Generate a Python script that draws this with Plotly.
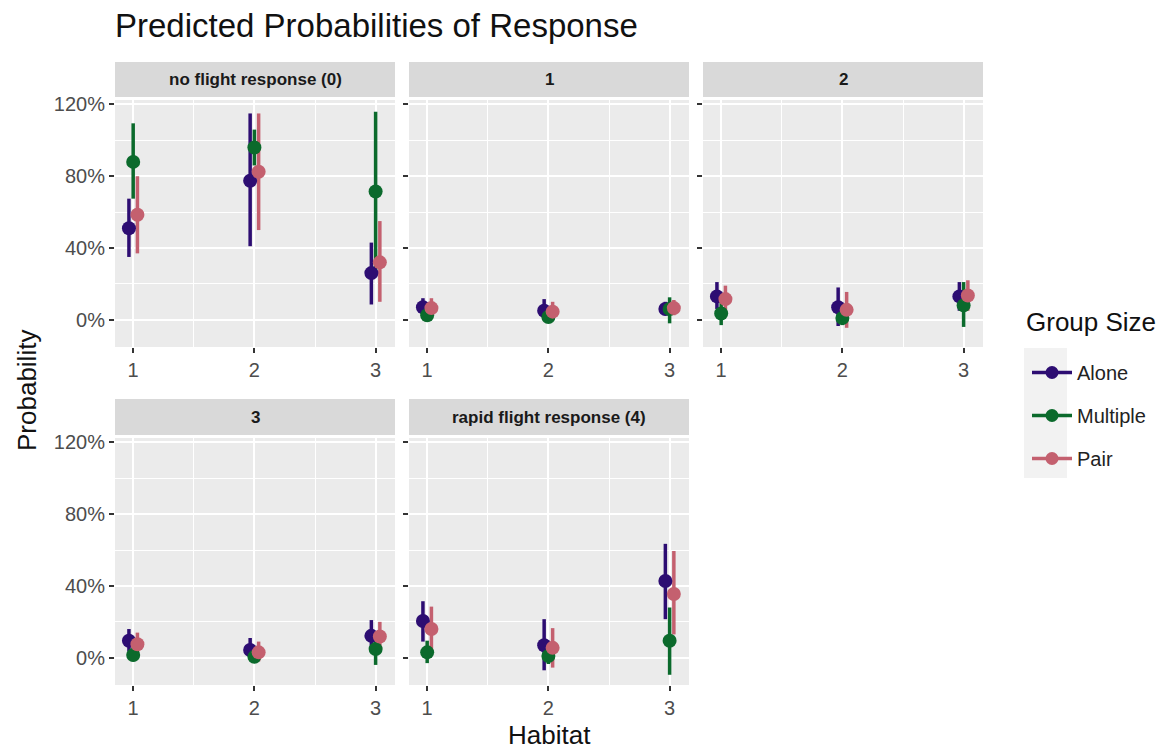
import plotly.graph_objects as go

# ---------------- data (percent) ----------------
responses = ["no flight response (0)", "1", "2", "3", "rapid flight response (4)"]
habitats = [1, 2, 3]
groups = ["Alone", "Multiple", "Pair"]

alone_est = [[51, 77.5, 26], [7, 5, 6], [13, 7, 13], [9.5, 4.3, 12.2], [20.5, 7, 42.8]]
alone_lo = [[35, 41, 8.5], [2.5, 0, 2.5], [6, -3.5, 5], [3.5, -1, 4], [9, -7, 21.5]]
alone_hi = [[67.5, 115, 43], [12, 11.5, 10], [21, 18, 21], [16, 11, 21], [31.5, 21.5, 63.5]]

multiple_est = [[88, 96, 71.5], [2.5, 1.5, 6], [3.5, 1, 8], [1.5, 0.5, 4.8], [3, 1, 9.5]]
multiple_lo = [[67.5, 86, 26.5], [0, -1, -2], [-3, -3, -4], [-2, -2, -4], [-3, -3.5, -9.5]]
multiple_hi = [[109.5, 106, 116], [6, 5, 12.5], [11, 6, 21], [6, 4, 14], [9.5, 6, 28]]

pair_est = [[58.5, 82.5, 32], [6.5, 4.5, 6.5], [11.5, 5.5, 13.5], [7.5, 3, 11.8], [16, 5.5, 35.5]]
pair_lo = [[37, 50, 10], [2, 0, 2.5], [4, -4.5, 5], [1.5, -2, 4], [4, -5.5, 13]]
pair_hi = [[80, 115, 55], [12, 10, 11], [19, 15.5, 22], [14, 9, 20], [28.5, 16.5, 59.5]]

y_tickvals = [0, 0.4, 0.8, 1.2]
x_ticklabels = ["1", "2", "3"]

# ---------------- styling ----------------
colors = {"Alone": "#2d0d72", "Multiple": "#0b6a2c", "Pair": "#c4606f"}
dodge = {"Alone": -0.035, "Multiple": 0.0, "Pair": 0.035}
est = {"Alone": alone_est, "Multiple": multiple_est, "Pair": pair_est}
lo = {"Alone": alone_lo, "Multiple": multiple_lo, "Pair": pair_lo}
hi = {"Alone": alone_hi, "Multiple": multiple_hi, "Pair": pair_hi}

W, H = 1167, 749
# panel pixel boxes (left, right, top, bottom)
panels_px = [
    (115, 395, 100, 347),
    (409, 689, 100, 347),
    (703, 983, 100, 347),
    (115, 395, 438, 685),
    (409, 689, 438, 685),
]
strip_px = [(62, 97), (62, 97), (62, 97), (399, 435), (399, 435)]

FONT = "Liberation Sans, Arial, sans-serif"
fig = go.Figure()

# error bars first (all groups), then points, like ggplot pointrange
for p in range(5):
    sfx = "" if p == 0 else str(p + 1)
    for g in groups:
        xs, ys = [], []
        for i, h in enumerate(habitats):
            xs += [h + dodge[g], h + dodge[g], None]
            ys += [lo[g][p][i] / 100, hi[g][p][i] / 100, None]
        fig.add_trace(go.Scatter(
            x=xs, y=ys, mode="lines", xaxis="x" + sfx, yaxis="y" + sfx,
            line=dict(color=colors[g], width=3.5), showlegend=False, hoverinfo="skip"))
for p in range(5):
    sfx = "" if p == 0 else str(p + 1)
    for g in groups:
        fig.add_trace(go.Scatter(
            x=[h + dodge[g] for h in habitats],
            y=[v / 100 for v in est[g][p]],
            mode="markers", xaxis="x" + sfx, yaxis="y" + sfx,
            marker=dict(color=colors[g], size=14, line=dict(width=0)),
            name=g, showlegend=False))

# legend entries
for g in groups:
    fig.add_trace(go.Scatter(
        x=[None], y=[None], mode="lines+markers", name=g, legendgroup=g,
        line=dict(color=colors[g], width=3.5), marker=dict(color=colors[g], size=13),
        showlegend=True))

layout = dict(
    width=W, height=H, paper_bgcolor="white", plot_bgcolor="#ebebeb",
    margin=dict(l=0, r=0, t=0, b=0), showlegend=True,
    font=dict(family=FONT, color="#4d4d4d"),
)
shapes, annotations = [], []
for p, (l, r, t, b) in enumerate(panels_px):
    sfx = "" if p == 0 else str(p + 1)
    xd = [l / W, r / W]
    yd = [(H - b) / H, (H - t) / H]
    layout["xaxis" + sfx] = dict(
        domain=xd, anchor="y" + sfx, range=[0.85, 3.16],
        tickvals=habitats, ticktext=x_ticklabels, ticks="outside", ticklen=5,
        tickcolor="#333333", tickwidth=1.5,
        tickfont=dict(size=20, color="#4d4d4d", family=FONT),
        showgrid=True, gridcolor="white", gridwidth=2, zeroline=False,
        showline=False, automargin=False,
        minor=dict(tickvals=[1.5, 2.5], showgrid=True, gridcolor="white", gridwidth=1, ticks=""),
    )
    layout["yaxis" + sfx] = dict(
        domain=yd, anchor="x" + sfx, range=[-0.152, 1.225],
        tickvals=y_tickvals, tickformat=".0%", ticks="outside", ticklen=5,
        tickcolor="#333333", tickwidth=1.5,
        showticklabels=(p in (0, 3)),
        tickfont=dict(size=20, color="#4d4d4d", family=FONT),
        showgrid=True, gridcolor="white", gridwidth=2, zeroline=False,
        showline=False, automargin=False,
        minor=dict(tickvals=[0.2, 0.6, 1.0], showgrid=True, gridcolor="white", gridwidth=1, ticks=""),
    )
    st, sb = strip_px[p]
    shapes.append(dict(type="rect", xref="paper", yref="paper",
                       x0=l / W, x1=r / W, y0=(H - sb) / H, y1=(H - st) / H,
                       fillcolor="#d9d9d9", line=dict(width=0), layer="below"))
    annotations.append(dict(text="<b>%s</b>" % responses[p], xref="paper", yref="paper",
                            x=(l + r) / 2 / W, y=(H - (st + sb) / 2) / H,
                            showarrow=False, xanchor="center", yanchor="middle",
                            font=dict(size=17, color="#1a1a1a", family=FONT)))

# legend key background
shapes.append(dict(type="rect", xref="paper", yref="paper",
                   x0=1024 / W, x1=1067 / W, y0=(H - 478) / H, y1=(H - 348) / H,
                   fillcolor="#f2f2f2", line=dict(width=0), layer="below"))

annotations += [
    dict(text="Predicted Probabilities of Response", xref="paper", yref="paper",
         x=113 / W, y=(H - 26) / H, xanchor="left", yanchor="middle", showarrow=False,
         font=dict(size=33, color="#111111", family=FONT)),
    dict(text="Probability", xref="paper", yref="paper", x=27 / W, y=(H - 391) / H,
         xanchor="center", yanchor="middle", textangle=-90, showarrow=False,
         font=dict(size=26, color="#111111", family=FONT)),
    dict(text="Habitat", xref="paper", yref="paper", x=549 / W, y=(H - 735) / H,
         xanchor="center", yanchor="middle", showarrow=False,
         font=dict(size=26, color="#111111", family=FONT)),
    dict(text="Group Size", xref="paper", yref="paper", x=1024 / W, y=(H - 322) / H,
         xanchor="left", yanchor="middle", showarrow=False,
         font=dict(size=26, color="#111111", family=FONT)),
]
layout["shapes"] = shapes
layout["annotations"] = annotations
layout["legend"] = dict(
    x=1027 / W, y=(H - 353) / H, xanchor="left", yanchor="top",
    bgcolor="rgba(0,0,0,0)", tracegroupgap=14, itemwidth=40,
    font=dict(size=20, color="#222222", family=FONT),
)
fig.update_layout(**layout)
fig.write_html("out.html", post_script="document.body.style.margin='0';",
               config={"displayModeBar": False})
